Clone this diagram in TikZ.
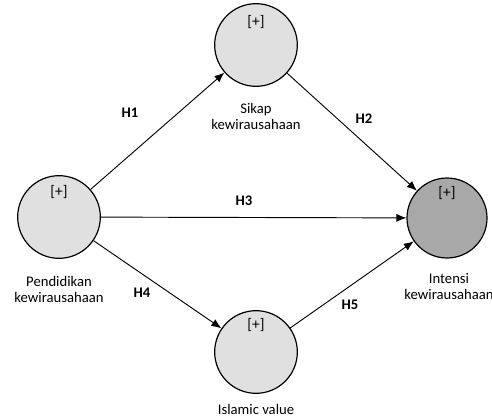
\documentclass[tikz,border=0pt]{standalone}
\usepackage{fontspec}
\setmainfont{Carlito}
\usepackage{tikz}
\usetikzlibrary{arrows.meta}
\definecolor{latentfill}{HTML}{E0E0E0}
\definecolor{targetfill}{HTML}{A8A8A8}

\begin{document}
\begin{tikzpicture}[x=0.75pt,y=-0.75pt,
    every node/.style={font=\fontsize{11}{12}\selectfont},
    latent/.style={circle,draw=black,line width=0.9pt,fill=latentfill,minimum size=62pt,inner sep=0pt},
    plus/.style={font=\fontsize{11.5}{12}\selectfont},
    hyp/.style={font=\fontsize{11}{12}\selectfont\bfseries},
    path/.style={-{Latex[length=7.5pt,width=6pt]},line width=0.7pt}]
  \useasboundingbox (0,0) rectangle (492,417);
  % constructs
  \node[latent] (pend) at (59,217) {};
  \node[latent] (sikap) at (256,45) {};
  \node[latent] (islam) at (256,352) {};
  \node[latent,fill=targetfill,minimum size=60pt] (intensi) at (447,218) {};
  \node[plus] (pendp) at (59,192) {[+]};
  \node[plus] (sikapp) at (256,22) {[+]};
  \node[plus] (islamp) at (256,325) {[+]};
  \node[plus] (intensip) at (447,193) {[+]};
  % names
  \node[align=center] (pendl) at (59,289) {Pendidikan\\kewirausahaan};
  \node[align=center] (sikapl) at (256,116) {Sikap\\kewirausahaan};
  \node[align=center] (intensil) at (449,287) {Intensi\\kewirausahaan};
  \node (islaml) at (256,409) {Islamic value};
  % paths
  \draw[path] (pend) -- (sikap);
  \draw[path] (sikap) -- (intensi);
  \draw[path] (pend) -- (intensi);
  \draw[path] (pend) -- (islam);
  \draw[path] (islam) -- (intensi);
  \node[hyp] (h1) at (130,113) {H1};
  \node[hyp] (h2) at (364,119) {H2};
  \node[hyp] (h3) at (244,201) {H3};
  \node[hyp] (h4) at (142,293) {H4};
  \node[hyp] (h5) at (350,305) {H5};
\end{tikzpicture}
\end{document}
